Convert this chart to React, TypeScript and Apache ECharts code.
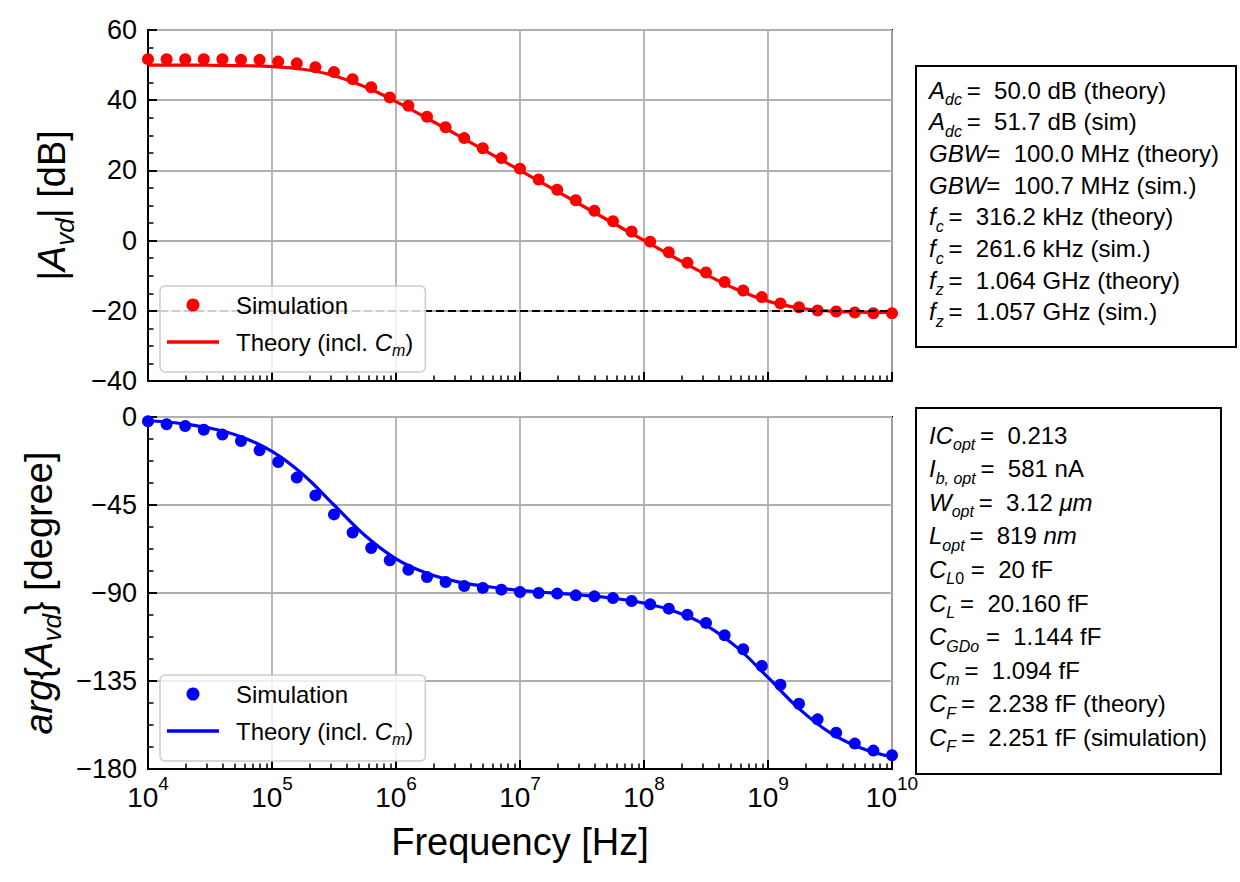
import React, { useEffect, useRef } from 'react';
import * as echarts from 'echarts';

const FONT = '"Liberation Sans", Arial, Helvetica, sans-serif';

// Simulation sample frequencies [Hz]
const simFreq = [
  1.000e4, 1.413e4, 1.995e4, 2.818e4, 3.981e4, 5.623e4, 7.943e4, 1.122e5, 1.585e5, 2.239e5,
  3.162e5, 4.467e5, 6.310e5, 8.913e5, 1.259e6, 1.778e6, 2.512e6, 3.548e6, 5.012e6, 7.079e6,
  1.000e7, 1.413e7, 1.995e7, 2.818e7, 3.981e7, 5.623e7, 7.943e7, 1.122e8, 1.585e8, 2.239e8,
  3.162e8, 4.467e8, 6.310e8, 8.913e8, 1.259e9, 1.778e9, 2.512e9, 3.548e9, 5.012e9, 7.079e9,
  1.000e10,
];
// Simulated magnitude [dB]
const simMagDb = [
  51.7, 51.7, 51.7, 51.7, 51.7, 51.5, 51.5, 51.0, 50.5, 49.4,
  48.0, 46.0, 43.7, 40.8, 38.4, 35.3, 32.3, 29.2, 26.3, 23.5,
  20.5, 17.4, 14.5, 11.5, 8.5, 5.5, 2.6, -0.3, -3.3, -6.3,
  -9.1, -11.8, -14.2, -16.1, -17.9, -19.0, -19.9, -20.2, -20.5, -20.7,
  -20.7,
];
// Simulated phase [degree]
const simPhaseDeg = [
  -2.2, -3.7, -4.6, -6.5, -9.0, -12.3, -17.0, -23.0, -31.0, -40.1,
  -49.8, -59.1, -67.0, -73.3, -78.1, -81.8, -84.4, -86.4, -87.4, -88.3,
  -89.5, -90.0, -90.3, -91.2, -91.7, -92.6, -94.1, -95.8, -98.0, -101.1,
  -105.3, -111.6, -118.8, -127.3, -136.9, -146.6, -154.6, -161.4, -167.0, -170.6,
  -173.0,
];
// Theory curve frequencies [Hz]
const theoryFreq = [
  1.000e4, 1.778e4, 3.162e4, 5.623e4, 1.000e5, 1.778e5, 3.162e5, 5.623e5, 1.000e6, 1.778e6,
  3.162e6, 5.623e6, 1.000e7, 1.778e7, 3.162e7, 5.623e7, 1.000e8, 1.778e8, 3.162e8, 5.623e8,
  1.000e9, 1.778e9, 3.162e9, 5.623e9, 1.000e10,
];
const theoryMagDb = [
  50.0, 49.99, 49.96, 49.86, 49.59, 48.81, 46.99, 43.81, 39.59, 34.86,
  29.96, 24.99, 20.0, 15.0, 10.0, 5.01, 0.04, -4.88, -9.63, -13.93,
  -17.25, -19.2, -20.07, -20.39, -20.49,
];
const theoryPhaseDeg = [
  -1.8, -3.2, -5.7, -10.1, -17.6, -29.4, -45.0, -60.6, -72.5, -79.9,
  -84.3, -86.8, -88.7, -89.9, -91.1, -92.7, -95.2, -99.4, -106.5, -117.8,
  -133.2, -149.1, -161.4, -169.3, -173.9,
];
const asymptoteDb = -20;

const magAxis = { min: -40, max: 60, interval: 20 };
const phaseAxis = { min: -180, max: 0, interval: 45 };
const freqAxis = { min: 1e4, max: 1e10 };

const legendNames: Record<string, string> = {
  magSim: '{n|Simulation}',
  magTheory: '{n|Theory (incl. }{i|C}{s|m}{n|)}',
  phSim: '{n|Simulation}',
  phTheory: '{n|Theory (incl. }{i|C}{s|m}{n|)}',
};

const NB = '\u00a0';
const TS = '\u2009';
const box1Lines = [
  `{i|A}{s|dc}{n|${TS}=${NB}${NB}50.0 dB (theory)}`,
  `{i|A}{s|dc}{n|${TS}=${NB}${NB}51.7 dB (sim)}`,
  `{i|GBW}{n|=${NB}${NB}100.0 MHz (theory)}`,
  `{i|GBW}{n|=${NB}${NB}100.7 MHz (sim.)}`,
  `{i|f}{s|c}{n|${TS}=${NB}${NB}316.2 kHz (theory)}`,
  `{i|f}{s|c}{n|${TS}=${NB}${NB}261.6 kHz (sim.)}`,
  `{i|f}{s|z}{n|${TS}=${NB}${NB}1.064 GHz (theory)}`,
  `{i|f}{s|z}{n|${TS}=${NB}${NB}1.057 GHz (sim.)}`,
];
const box2Lines = [
  `{i|IC}{s|opt}{n|${TS}=${NB}${NB}0.213}`,
  `{i|I}{s|b, opt}{n|${TS}=${NB}${NB}581 nA}`,
  `{i|W}{s|opt}{n|${TS}=${NB}${NB}3.12${NB}}{i|μm}`,
  `{i|L}{s|opt}{n|${TS}=${NB}${NB}819${NB}}{i|nm}`,
  `{i|C}{s|L}{su|0}{n|${NB}=${NB}${NB}20 fF}`,
  `{i|C}{s|L}{n|${TS}=${NB}${NB}20.160 fF}`,
  `{i|C}{s|GDo}{n|${NB}=${NB}${NB}1.144 fF}`,
  `{i|C}{s|m}{n|${TS}=${NB}${NB}1.094 fF}`,
  `{i|C}{s|F}{n|${TS}=${NB}${NB}2.238 fF (theory)}`,
  `{i|C}{s|F}{n|${TS}=${NB}${NB}2.251 fF (simulation)}`,
];

const zip = (xs: number[], ys: number[]) => xs.map((x, i) => [x, ys[i]]);

const minorX: number[] = [];
for (let d = 4; d < 10; d++) {
  for (let m = 2; m <= 9; m++) minorX.push(m * Math.pow(10, d));
}

const TXT = 24;
const SUB = 16;
const boxRich = {
  n: { fontFamily: FONT, fontSize: TXT, lineHeight: 35, fill: '#000', color: '#000' },
  i: { fontFamily: FONT, fontSize: TXT, fontStyle: 'italic', lineHeight: 35, fill: '#000', color: '#000' },
  s: { fontFamily: FONT, fontSize: SUB, fontStyle: 'italic', lineHeight: 16, verticalAlign: 'bottom', fill: '#000', color: '#000' },
  su: { fontFamily: FONT, fontSize: SUB, lineHeight: 16, verticalAlign: 'bottom', fill: '#000', color: '#000' },
};

const minusFmt = (v: number) => (v < 0 ? '\u2212' + String(-v) : String(v));

function buildOption() {
  const GL = 148;
  const GW = 744;
  const grids = [
    { left: GL, top: 30, width: GW, height: 351 },
    { left: GL, top: 417, width: GW, height: 352 },
  ].map((g) => ({ ...g, show: true, borderColor: '#000', borderWidth: 2, backgroundColor: 'transparent', containLabel: false }));

  const majorX = (gridIndex: number, labels: boolean) => ({
    gridIndex,
    type: 'log',
    logBase: 10,
    min: freqAxis.min,
    max: freqAxis.max,
    position: 'bottom',
    axisLine: { show: true, onZero: false, lineStyle: { color: '#000', width: 2 } },
    axisTick: { show: true, inside: true, length: 9, lineStyle: { color: '#000', width: 2 } },
    splitLine: { show: true, lineStyle: { color: '#b0b0b0', width: 1.8 } },
    axisLabel: labels
      ? {
          show: true,
          margin: 5,
          formatter: (v: number) => `{b|10}{s|${Math.round(Math.log10(v))}}`,
          rich: {
            b: { fontFamily: FONT, fontSize: 28, color: '#000', lineHeight: 37, verticalAlign: 'bottom' },
            s: { fontFamily: FONT, fontSize: 19, color: '#000', lineHeight: 19, verticalAlign: 'top' },
          },
        }
      : { show: false },
    ...(labels
      ? {
          name: 'Frequency [Hz]',
          nameLocation: 'middle',
          nameGap: 54,
          nameTextStyle: { fontFamily: FONT, fontSize: 38, color: '#000' },
        }
      : {}),
  });
  const minorXAxis = (gridIndex: number) => ({
    gridIndex,
    type: 'log',
    logBase: 10,
    min: freqAxis.min,
    max: freqAxis.max,
    position: 'bottom',
    axisLine: { show: false, onZero: false },
    axisTick: { show: true, inside: true, length: 5.5, customValues: minorX, lineStyle: { color: '#000', width: 1.5 } },
    axisLabel: { show: false },
    splitLine: { show: false },
  });

  const yAx = (gridIndex: number, ax: { min: number; max: number; interval: number }, name: string) => ({
    gridIndex,
    type: 'value',
    min: ax.min,
    max: ax.max,
    interval: ax.interval,
    axisLine: { show: true, onZero: false, lineStyle: { color: '#000', width: 2 } },
    axisTick: { show: true, inside: true, length: 9, lineStyle: { color: '#000', width: 2 } },
    minorTick: { show: true, splitNumber: 4, length: 5.5, lineStyle: { color: '#000', width: 1.5 } },
    splitLine: { show: true, lineStyle: { color: '#b0b0b0', width: 1.8 } },
    minorSplitLine: { show: false },
    axisLabel: { show: true, margin: 11, fontFamily: FONT, fontSize: 27, color: '#000', formatter: minusFmt },
    name,
    nameLocation: 'middle',
    nameRotate: 90,
    nameGap: 70,
    nameTextStyle: {
      fontFamily: FONT,
      fontSize: 38,
      color: '#000',
      rich: {
        n: { fontFamily: FONT, fontSize: 38, color: '#000', lineHeight: 52 },
        i: { fontFamily: FONT, fontSize: 38, fontStyle: 'italic', color: '#000', lineHeight: 52 },
        s: { fontFamily: FONT, fontSize: 26, fontStyle: 'italic', color: '#000', lineHeight: 26, verticalAlign: 'bottom' },
      },
    },
  });

  const legendRich = {
    n: { fontFamily: FONT, fontSize: TXT, color: '#000', lineHeight: 32 },
    i: { fontFamily: FONT, fontSize: TXT, fontStyle: 'italic', color: '#000', lineHeight: 32 },
    s: { fontFamily: FONT, fontSize: SUB, fontStyle: 'italic', color: '#000', lineHeight: 16, verticalAlign: 'bottom' },
  };
  const legend = (top: number, names: string[]) => ({
    left: 160,
    top,
    z: 10,
    orient: 'vertical',
    data: [
      { name: names[0], icon: 'circle' },
      { name: names[1], icon: 'path://M0 0H100V6.4H0Z' },
    ],
    itemWidth: 52,
    itemHeight: 13,
    itemGap: 13,
    padding: [7, 12, 14, 7],
    backgroundColor: 'rgba(255,255,255,0.8)',
    borderColor: '#cccccc',
    borderWidth: 1.5,
    borderRadius: 5,
    selectedMode: false,
    formatter: (name: string) => legendNames[name],
    textStyle: { fontFamily: FONT, fontSize: TXT, color: '#000', padding: [0, 0, 0, 12], rich: legendRich },
  });

  const boxes: any[] = [];
  boxes.push({ type: 'rect', shape: { x: 916, y: 66, width: 320, height: 281 }, style: { fill: '#fff', stroke: '#000', lineWidth: 2 } });
  box1Lines.forEach((t, i) => {
    boxes.push({
      type: 'text',
      x: 929,
      y: 90 + i * 31.7,
      style: { text: t, rich: boxRich, fontFamily: FONT, fontSize: TXT, fill: '#000', align: 'left', verticalAlign: 'middle' },
    });
  });
  boxes.push({ type: 'rect', shape: { x: 916, y: 408, width: 305, height: 366 }, style: { fill: '#fff', stroke: '#000', lineWidth: 2 } });
  box2Lines.forEach((t, i) => {
    boxes.push({
      type: 'text',
      x: 929,
      y: 435 + i * 33.6,
      style: { text: t, rich: boxRich, fontFamily: FONT, fontSize: TXT, fill: '#000', align: 'left', verticalAlign: 'middle' },
    });
  });

  return {
    animation: false,
    backgroundColor: '#ffffff',
    grid: grids,
    xAxis: [majorX(0, false), minorXAxis(0), majorX(1, true), minorXAxis(1)],
    yAxis: [
      yAx(0, magAxis, '{n||}{i|A}{s|vd}{n|| [dB]}'),
      yAx(1, phaseAxis, '{i|arg}{n|{}{i|A}{s|vd}} [degree]'),
    ],
    legend: [legend(286, ['magSim', 'magTheory']), legend(675, ['phSim', 'phTheory'])],
    series: [
      {
        name: 'magSim',
        type: 'scatter',
        xAxisIndex: 0,
        yAxisIndex: 0,
        data: zip(simFreq, simMagDb),
        symbol: 'circle',
        symbolSize: 12,
        itemStyle: { color: '#ff0000', opacity: 1 },
        z: 2,
      },
      {
        name: 'magTheory',
        type: 'line',
        xAxisIndex: 0,
        yAxisIndex: 0,
        data: zip(theoryFreq, theoryMagDb),
        symbol: 'none',
        showSymbol: false,
        smooth: 0.4,
        lineStyle: { color: '#ff0000', width: 3.2 },
        itemStyle: { color: '#ff0000' },
        z: 3,
        markLine: {
          silent: true,
          symbol: ['none', 'none'],
          label: { show: false },
          lineStyle: { color: '#000', type: [8, 4], width: 1.8 },
          data: [{ yAxis: asymptoteDb }],
        },
      },
      {
        name: 'phSim',
        type: 'scatter',
        xAxisIndex: 2,
        yAxisIndex: 1,
        data: zip(simFreq, simPhaseDeg),
        symbol: 'circle',
        symbolSize: 12,
        itemStyle: { color: '#0000ff', opacity: 1 },
        z: 2,
      },
      {
        name: 'phTheory',
        type: 'line',
        xAxisIndex: 2,
        yAxisIndex: 1,
        data: zip(theoryFreq, theoryPhaseDeg),
        symbol: 'none',
        showSymbol: false,
        smooth: 0.4,
        lineStyle: { color: '#0000ff', width: 3.2 },
        itemStyle: { color: '#0000ff' },
        z: 3,
      },
    ],
    graphic: { elements: boxes },
  };
}

export default function App() {
  const ref = useRef<HTMLDivElement>(null);
  useEffect(() => {
    document.body.style.margin = '0';
    if (!ref.current) return;
    const chart = echarts.init(ref.current, null, { renderer: 'svg' });
    chart.setOption(buildOption() as any);
    return () => chart.dispose();
  }, []);
  return <div ref={ref} style={{ width: 1240, height: 882 }} />;
}
